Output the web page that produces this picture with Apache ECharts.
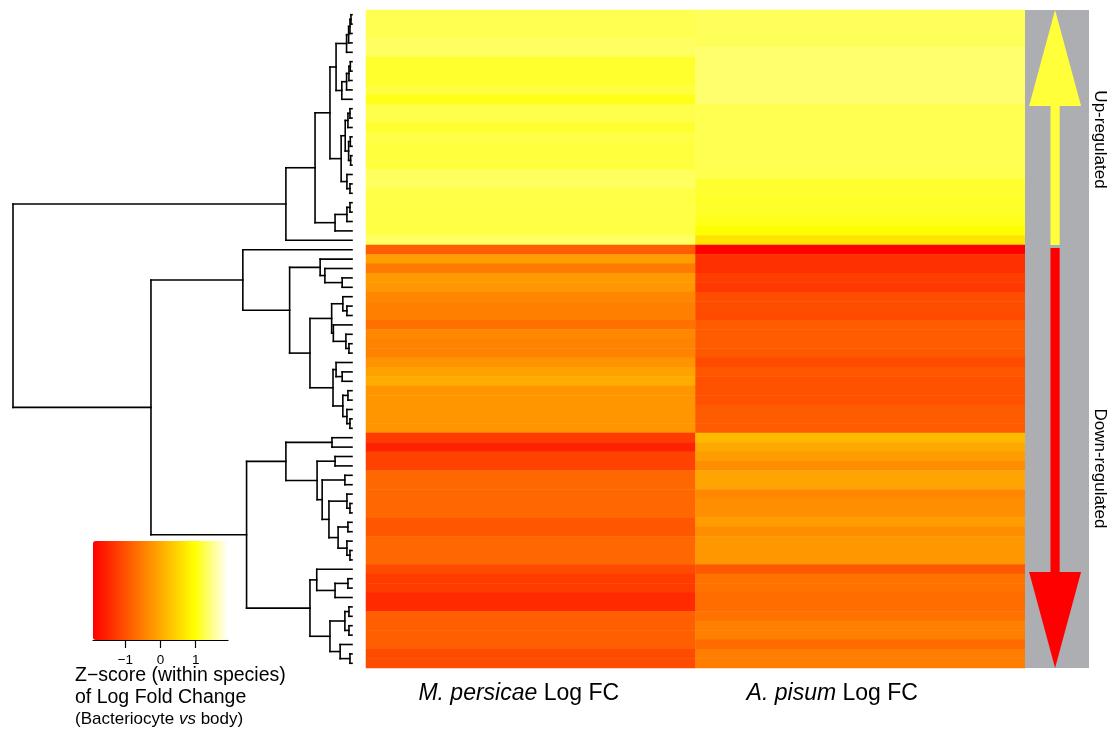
<!DOCTYPE html>
<html>
<head>
<meta charset="utf-8">
<script src="https://cdn.jsdelivr.net/npm/echarts@6/dist/echarts.min.js"></script>
<style>
html,body{margin:0;padding:0;background:#fff;}
#chart{width:1120px;height:731px;}
</style>
</head>
<body>
<div id="chart"></div>
<script>
// ---------- data ----------
const columns = ['M. persicae Log FC', 'A. pisum Log FC'];

// z-score of log fold change, one value per gene row (top to bottom)
const mPersicae = [
  1.27, 1.27, 1.27, 1.33, 1.33, 1.13, 1.13, 1.13, 1.20, 1.05,
  1.24, 1.24, 1.14, 1.22, 1.19, 1.19, 1.19, 1.31, 1.31, 1.22,
  1.22, 1.22, 1.22, 1.22, 1.33,
  -0.89, -0.14, -0.54, -0.18, -0.20, -0.40, -0.47, -0.47, -0.65, -0.38,
  -0.44, -0.44, -0.25, -0.09, 0.02, -0.23, -0.23, -0.23, -0.23, -0.23,
  -1.25, -1.54, -1.18, -1.18, -0.76, -0.76, -0.74, -0.74, -0.74, -0.95,
  -0.95, -0.74, -0.74, -0.74, -1.07, -1.25, -1.25, -1.45, -1.45, -0.85,
  -0.85, -0.85, -0.85, -1.07, -1.07
];
const aPisum = [
  1.30, 1.30, 1.30, 1.30, 1.37, 1.37, 1.37, 1.37, 1.37, 1.37,
  1.27, 1.27, 1.27, 1.27, 1.27, 1.27, 1.27, 1.25, 1.14, 1.14,
  1.11, 1.11, 1.05, 0.95, 0.65,
  -1.90, -1.38, -1.38, -1.23, -1.30, -1.05, -1.05, -1.08, -0.89, -0.89,
  -0.89, -0.91, -1.07, -0.94, -1.00, -1.00, -1.00, -0.89, -0.89, -0.89,
  0.18, -0.02, -0.16, -0.33, -0.07, -0.07, -0.38, -0.31, -0.31, -0.16,
  -0.33, -0.22, -0.22, -0.22, -0.92, -0.63, -0.63, -0.69, -0.69, -0.63,
  -0.49, -0.49, -0.71, -0.51, -0.51
];

// row dendrogram: [mergeHeight, left, right]; a number is a leaf (row index)
const dendrogram = [10.0,
  [1.95,
    [1.09,
      [0.65,
        [0.47,
          [0.16, [0.10, [0.06, [0.03, 0, 1], 2], 3], 4],
          [0.30, [0.16, [0.09, [0.05, 5, 6], 7], 8], 9]],
        [0.32,
          [0.20, [0.12, [0.06, 10, 11], 12], [0.10, [0.05, 13, 14], [0.04, 15, 16]]],
          [0.15, 17, [0.06, 18, 19]]]],
      [0.50, [0.15, [0.06, 20, 21], 22], 23]],
    24],
  [5.93,
    [3.22, 25,
      [1.84,
        [0.94, 26, [0.80, 27, [0.29, 28, 29]]],
        [1.24,
          [0.60, [0.27, 30, [0.15, 31, 32]], [0.55, 33, [0.18, 34, [0.09, 35, 36]]]],
          [0.56, [0.47, 37, [0.29, 38, 39]], [0.27, [0.12, 40, 41], [0.15, 42, [0.06, 43, 44]]]]]]],
    [3.11,
      [1.95, [0.59, 45, 46],
        [1.03, [0.50, 47, 48],
          [0.88, [0.21, 49, 50],
            [0.68, [0.15, 51, [0.06, 52, 53]],
              [0.41, [0.12, 54, 55], [0.15, 56, [0.06, 57, 58]]]]]]],
      [1.24,
        [1.04, 59, [0.50, [0.12, 60, 61], 62]],
        [0.65, [0.21, [0.09, 63, 64], [0.09, 65, 66]], [0.35, 67, [0.06, 68, 69]]]]]]
];

const groups = [
  { name: 'Up-regulated', from: 0, to: 25, dir: 'up', color: '#FFFF3A' },
  { name: 'Down-regulated', from: 25, to: 70, dir: 'down', color: '#FF0000' }
];

const legendTicks = [-1, 0, 1];
const zRange = [-1.92, 1.92];
const heatColors = ['#FF0000', '#FF5500', '#FFAA00', '#FFFF00', '#FFFFFF'];

// ---------- derived ----------
const nRows = mPersicae.length;
const rowIds = mPersicae.map((_, i) => 'gene' + (i + 1));
const heatData = [];
mPersicae.forEach((v, r) => heatData.push([0, r, v]));
aPisum.forEach((v, r) => heatData.push([1, r, v]));

const segments = [];
function layout(node) {
  if (typeof node === 'number') return { h: 0, y: node + 0.5 };
  const [h, a, b] = node;
  const A = layout(a), B = layout(b);
  segments.push([A.h, A.y, h, A.y]);
  segments.push([B.h, B.y, h, B.y]);
  segments.push([h, A.y, h, B.y]);
  return { h, y: (A.y + B.y) / 2 };
}
layout(dendrogram);

const FONT = '"Liberation Sans", Arial, Helvetica, sans-serif';

const chart = echarts.init(document.getElementById('chart'), null, { renderer: 'canvas' });

const option = {
  backgroundColor: '#ffffff',
  animation: false,
  textStyle: { fontFamily: FONT },
  title: {
    left: 75, top: 665, padding: 0,
    text: '{a|Z\u2212score (within species)}\n{a|of Log Fold Change}\n{b|(Bacteriocyte }{bi|vs}{b| body)}',
    textStyle: {
      fontWeight: 'normal',
      rich: {
        a: { fontSize: 19.5, lineHeight: 22, color: '#000', fontWeight: 'normal', fontFamily: FONT },
        b: { fontSize: 17, lineHeight: 20, color: '#000', fontWeight: 'normal', fontFamily: FONT },
        bi: { fontSize: 17, lineHeight: 20, color: '#000', fontWeight: 'normal', fontStyle: 'italic', fontFamily: FONT }
      }
    }
  },
  grid: [
    { left: 13, top: 10, width: 339, height: 658 },   // dendrogram
    { left: 366, top: 10, width: 659, height: 658 },  // heatmap
    { left: 1025, top: 10, width: 64, height: 658 },  // side arrows
    { left: 93, top: 541, width: 135, height: 99 }    // colour key axis
  ],
  xAxis: [
    { gridIndex: 0, type: 'value', min: 0, max: 10, inverse: true, show: false },
    {
      gridIndex: 1, type: 'category', data: columns,
      axisLine: { show: false }, axisTick: { show: false },
      axisLabel: {
        margin: 14,
        formatter: (v, i) => {
          const k = v.indexOf(' Log FC');
          return '{i|' + v.slice(0, k) + '}{n|' + v.slice(k) + '}{s' + i + '|}';
        },
        rich: {
          i: { fontSize: 23, fontStyle: 'italic', color: '#000', fontFamily: FONT },
          n: { fontSize: 23, color: '#000', fontFamily: FONT },
          s0: { width: 24 },
          s1: { width: 56 }
        }
      }
    },
    { gridIndex: 2, type: 'value', min: 0, max: 1, show: false },
    {
      gridIndex: 3, type: 'value', min: zRange[0], max: zRange[1],
      axisLine: { show: true, lineStyle: { color: '#000', width: 1.2 } },
      axisTick: { show: true, customValues: legendTicks, length: 8, lineStyle: { color: '#000', width: 1.2 } },
      axisLabel: {
        show: true, customValues: legendTicks, margin: 13, fontSize: 13.5, color: '#000',
        formatter: v => (v < 0 ? '\u2212' + Math.abs(v) : String(v))
      },
      splitLine: { show: false }
    }
  ],
  yAxis: [
    { gridIndex: 0, type: 'value', min: 0, max: nRows, inverse: true, show: false },
    { gridIndex: 1, type: 'category', data: rowIds, inverse: true, show: false },
    { gridIndex: 2, type: 'value', min: 0, max: nRows, inverse: true, show: false },
    { gridIndex: 3, type: 'value', min: 0, max: 1, show: false }
  ],
  visualMap: {
    type: 'continuous',
    seriesIndex: 1,
    min: zRange[0], max: zRange[1],
    orient: 'horizontal',
    left: 93, top: 541,
    itemWidth: 99, itemHeight: 135,
    padding: 0,
    calculable: false,
    text: null,
    hoverLink: false,
    inRange: { color: heatColors }
  },
  series: [
    {
      name: 'dendrogram', type: 'custom', xAxisIndex: 0, yAxisIndex: 0,
      silent: true, clip: false,
      encode: { x: [0, 2], y: [1, 3] },
      data: segments,
      renderItem: (params, api) => {
        const p1 = api.coord([api.value(0), api.value(1)]);
        const p2 = api.coord([api.value(2), api.value(3)]);
        return {
          type: 'line',
          shape: { x1: p1[0], y1: p1[1], x2: p2[0], y2: p2[1] },
          style: { stroke: '#000', lineWidth: 1.6, lineCap: 'square' }
        };
      }
    },
    {
      name: 'heatmap', type: 'heatmap', xAxisIndex: 1, yAxisIndex: 1,
      data: heatData, silent: true,
      itemStyle: { borderWidth: 0 }
    },
    {
      name: 'regulation', type: 'custom', xAxisIndex: 2, yAxisIndex: 2,
      silent: true, clip: false,
      encode: { y: [0, 1] },
      data: groups.map((g, i) => [g.from, g.to, i]),
      renderItem: (params, api) => {
        const g = groups[params.dataIndex];
        const tl = api.coord([0, api.value(0)]);
        const br = api.coord([1, api.value(1)]);
        const cx = api.coord([0.47, 0])[0];
        const x0 = tl[0], y0 = tl[1], x1 = br[0], y1 = br[1];
        const headLen = 96, headHalf = 26, sh = 4.6;
        const ch = [{ type: 'rect', shape: { x: x0, y: y0, width: x1 - x0, height: y1 - y0 }, style: { fill: '#ADAEB2' } }];
        if (g.dir === 'up') {
          ch.push({ type: 'rect', shape: { x: cx - sh, y: y0 + headLen - 1, width: 2 * sh, height: y1 - (y0 + headLen - 1) }, style: { fill: g.color } });
          ch.push({ type: 'polygon', shape: { points: [[cx, y0], [cx - headHalf, y0 + headLen], [cx + headHalf, y0 + headLen]] }, style: { fill: g.color } });
        } else {
          ch.push({ type: 'rect', shape: { x: cx - sh, y: y0 + 3, width: 2 * sh, height: (y1 - headLen + 1) - (y0 + 3) }, style: { fill: g.color } });
          ch.push({ type: 'polygon', shape: { points: [[cx - headHalf, y1 - headLen], [cx + headHalf, y1 - headLen], [cx, y1]] }, style: { fill: g.color } });
        }
        ch.push({
          type: 'text', x: x1 + 11, y: (y0 + y1) / 2 + 12, rotation: -Math.PI / 2,
          style: { text: g.name, fontSize: 17, fontFamily: FONT, fill: '#000', align: 'center', verticalAlign: 'middle' }
        });
        return { type: 'group', children: ch };
      }
    },
    { name: 'key', type: 'scatter', xAxisIndex: 3, yAxisIndex: 3, data: [], silent: true }
  ]
};

chart.setOption(option);
</script>
</body>
</html>
